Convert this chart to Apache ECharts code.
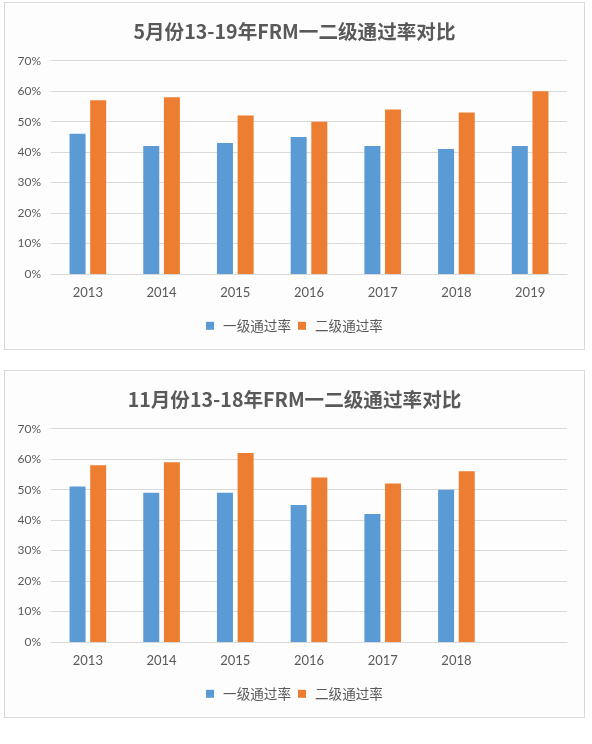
<!DOCTYPE html>
<html>
<head>
<meta charset="utf-8">
<script src="https://cdn.jsdelivr.net/npm/echarts@6/dist/echarts.min.js"></script>
<style>
  html, body { margin: 0; padding: 0; background: #ffffff; width: 592px; height: 744px; overflow: hidden; }
  .box { position: absolute; left: 4px; width: 581px; height: 348px; box-sizing: border-box; border: 1px solid #D9D9D9; background: #FDFDFD; }
  .chart { position: absolute; left: 0; top: 0; width: 579px; height: 346px; }
</style>
</head>
<body>
<div class="box" style="top:2px"><div id="c1" class="chart"></div></div>
<div class="box" style="top:370px"><div id="c2" class="chart"></div></div>
<script>
// ---- data ----
const mayTitle = '5月份13-19年FRM一二级通过率对比';
const mayYears = ['2013', '2014', '2015', '2016', '2017', '2018', '2019'];
const mayLevel1 = [46, 42, 43, 45, 42, 41, 42];
const mayLevel2 = [57, 58, 52, 50, 54, 53, 60];

const novTitle = '11月份13-18年FRM一二级通过率对比';
const novYears = ['2013', '2014', '2015', '2016', '2017', '2018', ''];
const novLevel1 = [51, 49, 49, 45, 42, 50];
const novLevel2 = [58, 59, 62, 54, 52, 56];

const seriesNames = ['一级通过率', '二级通过率'];
const yTicks = [0, 10, 20, 30, 40, 50, 60, 70];

// ---- styling ----
const blue = '#5B9BD5';
const orange = '#ED7D31';
const textGray = '#595959';
const gridGray = '#D9D9D9';
const latin = 'Lato, "Noto Sans CJK SC", sans-serif';
const cjk = '"Noto Sans CJK SC", sans-serif';

function makeOption(title, cats, d1, d2) {
  return {
    animation: false,
    title: {
      text: title,
      left: 'center',
      top: 18.5,
      padding: 0,
      textStyle: { fontFamily: cjk, fontSize: 19.6, fontWeight: 'bold', color: textGray, lineHeight: 20 }
    },
    legend: {
      data: seriesNames,
      left: 'center',
      top: 316,
      padding: 0,
      itemWidth: 8,
      itemHeight: 8,
      itemGap: 7,
      icon: 'rect',
      textStyle: { fontFamily: cjk, fontSize: 13.6, color: textGray, padding: [0, 0, 0, 4] }
    },
    grid: { left: 46, right: 17, top: 57.7, bottom: 346 - 271, containLabel: false },
    xAxis: {
      type: 'category',
      data: cats,
      axisLine: { lineStyle: { color: gridGray, width: 1 } },
      axisTick: { show: false },
      axisLabel: { fontFamily: latin, fontSize: 13, color: textGray, margin: 12 }
    },
    yAxis: {
      type: 'value',
      min: yTicks[0],
      max: yTicks[yTicks.length - 1],
      interval: yTicks[1] - yTicks[0],
      axisLine: { show: false },
      axisTick: { show: false },
      splitLine: { lineStyle: { color: gridGray, width: 1 } },
      axisLabel: { fontFamily: latin, fontSize: 12, color: textGray, margin: 10, formatter: '{value}%' }
    },
    series: [
      { name: seriesNames[0], type: 'bar', data: d1, barWidth: 16, barGap: '29%', itemStyle: { color: blue } },
      { name: seriesNames[1], type: 'bar', data: d2, barWidth: 16, barGap: '29%', itemStyle: { color: orange } }
    ]
  };
}

echarts.init(document.getElementById('c1')).setOption(makeOption(mayTitle, mayYears, mayLevel1, mayLevel2));
echarts.init(document.getElementById('c2')).setOption(makeOption(novTitle, novYears, novLevel1, novLevel2));
</script>
</body>
</html>
